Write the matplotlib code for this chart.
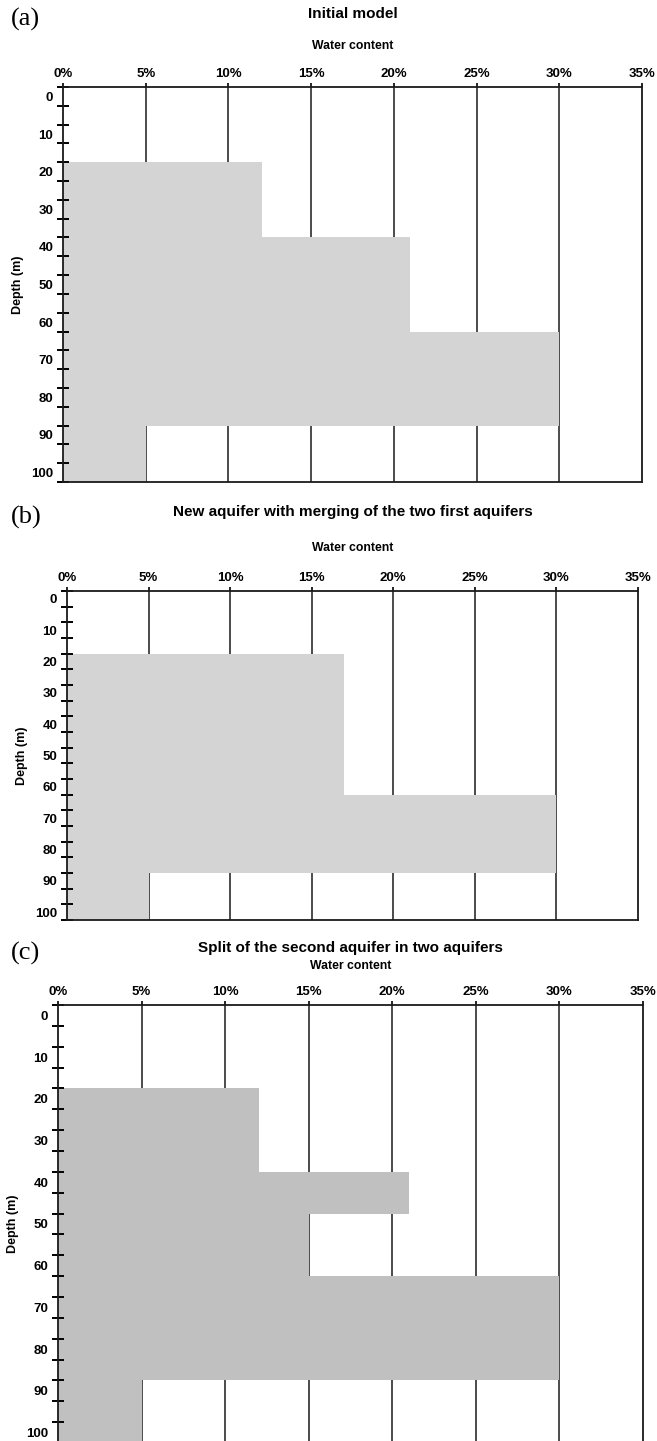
"""
Water content vs depth profiles for three aquifer models (a, b, c).
"""

import matplotlib.pyplot as plt
from matplotlib.ticker import FuncFormatter

W, H = 657, 1441

# depth classes (m), 5 m each
depths = [0, 5, 10, 15, 20, 25, 30, 35, 40, 45, 50,
          55, 60, 65, 70, 75, 80, 85, 90, 95, 100]

# water content (%) per depth class
initial_model = [0, 0, 0, 0, 12, 12, 12, 12, 21, 21, 21,
                 21, 21, 30, 30, 30, 30, 30, 5, 5, 5]
merged_model = [0, 0, 0, 0, 17, 17, 17, 17, 17, 17, 17,
                17, 17, 30, 30, 30, 30, 30, 5, 5, 5]
split_model = [0, 0, 0, 0, 12, 12, 12, 12, 21, 21, 15,
               15, 15, 30, 30, 30, 30, 30, 5, 5, 5]

x_ticks = [0, 5, 10, 15, 20, 25, 30, 35]
depth_labels = [0, 10, 20, 30, 40, 50, 60, 70, 80, 90, 100]

titles = ["Initial model",
          "New aquifer with merging of the two first aquifers",
          "Split of the second aquifer in two aquifers"]
letters = ["(a)", "(b)", "(c)"]

SANS = "Liberation Sans"
SERIF = "Liberation Serif"


def fx(px):
    return px / W


def fy(py):
    return 1 - py / H


def add_panel(fig, box, values, color, title, letter, text_y):
    left, right, top, bottom = box
    ax = fig.add_axes([fx(left), fy(bottom), fx(right - left), (bottom - top) / H])

    # grid lines first, then bars over them, ticks/spines on top
    ax.vlines(x_ticks[1:-1], -2.5, 102.5, color="#1a1a1a", linewidth=1.1, zorder=0.5)
    ax.barh(depths, values, height=5, color=color, linewidth=0, zorder=1)

    ax.set_xlim(0, 35)
    ax.set_ylim(102.5, -2.5)

    ax.set_xticks(x_ticks)
    ax.xaxis.set_major_formatter(FuncFormatter(lambda v, p: f"{v:.0f}%"))
    ax.xaxis.tick_top()
    ax.tick_params(axis="x", direction="out", length=3, width=1.2, pad=2,
                   labelsize=9.5)

    # depth ticks at class boundaries, labels every 10 m
    ax.set_yticks([d - 2.5 for d in depths] + [102.5])
    ax.set_yticklabels([])
    ax.set_yticks(depth_labels, minor=True)
    ax.set_yticklabels([str(d) for d in depth_labels], minor=True)
    ax.tick_params(axis="y", which="major", direction="inout", length=9, width=1.4)
    ax.tick_params(axis="y", which="minor", length=0, pad=7, labelsize=9.5)

    for lbl in ax.get_xticklabels() + ax.get_yticklabels(minor=True):
        lbl.set_fontfamily(SANS)
        lbl.set_fontweight("bold")

    for sp in ax.spines.values():
        sp.set_linewidth(1.3)
        sp.set_color("#1a1a1a")

    ax.set_ylabel("Depth (m)", fontfamily=SANS, fontweight="bold", fontsize=9,
                  labelpad=5)

    cx = fx((left + right) / 2)
    title_y, wc_y = text_y
    fig.text(cx, fy(title_y), title, ha="center", va="center",
             fontfamily=SANS, fontweight="bold", fontsize=11)
    fig.text(cx, fy(wc_y), "Water content", ha="center", va="center",
             fontfamily=SANS, fontweight="bold", fontsize=8.8)
    fig.text(fx(11), fy(title_y + 5), letter, ha="left", va="center",
             fontfamily=SERIF, fontsize=19)
    return ax


def main():
    fig = plt.figure(figsize=(W / 100, H / 100), dpi=100)

    add_panel(fig, (63, 642, 87, 482), initial_model, "#d4d4d4",
              titles[0], letters[0], (14, 46))
    add_panel(fig, (67, 638, 591, 920), merged_model, "#d4d4d4",
              titles[1], letters[1], (512, 548))
    add_panel(fig, (58, 643, 1005, 1443), split_model, "#c0c0c0",
              titles[2], letters[2], (948, 966))

    plt.savefig("out.png", dpi=100)


if __name__ == "__main__":
    main()
